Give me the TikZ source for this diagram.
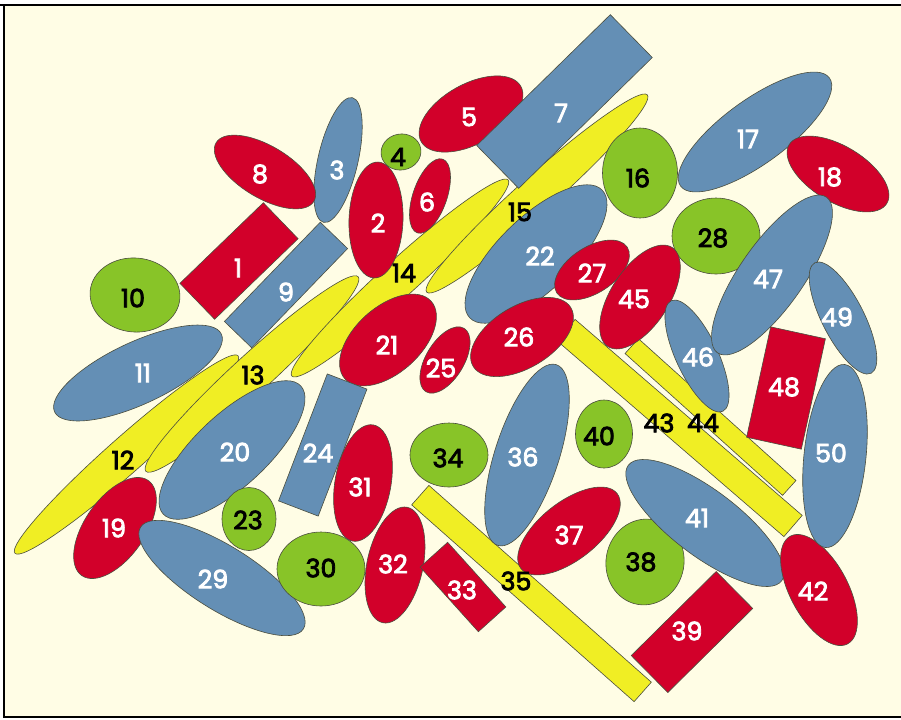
\documentclass[tikz,border=0pt]{standalone}
\usepackage{fontspec}
\newfontfamily\labfont{Poppins}
\definecolor{cRed}{RGB}{210,0,42}
\definecolor{cBlue}{RGB}{100,143,181}
\definecolor{cGreen}{RGB}{136,196,40}
\definecolor{cYel}{RGB}{240,238,36}
\definecolor{cBg}{RGB}{255,253,229}
\definecolor{cEdge}{RGB}{75,78,62}
\tikzset{
  shp/.style={draw=cEdge, line width=0.45pt},
  rsh/.style={shp, fill=cRed},
  bsh/.style={shp, fill=cBlue},
  gsh/.style={shp, fill=cGreen},
  ysh/.style={shp, fill=cYel},
  lab/.style={inner sep=0pt, font=\labfont\fontsize{19}{19}\selectfont},
  lw/.style={lab, text=white},
  lk/.style={lab, text=black}
}
\newcommand\fb[1]{\special{pdf:literal direct 2 Tr 0.6 w}#1\special{pdf:literal direct 0 Tr}}
\newcommand\myell[6]{\draw[#1, shift={(#2,#3)}, rotate=#6] (0,0) ellipse ({#4} and {#5});}
\newcommand\myrect[6]{\draw[#1, shift={(#2,#3)}, rotate=#6] ({-(#4)/2},{-(#5)/2}) rectangle ({(#4)/2},{(#5)/2});}
\begin{document}
\begin{tikzpicture}[x=0.75pt, y=-0.75pt]
\useasboundingbox (0,0) rectangle (901,719);
\fill[white] (0,0) rectangle (901,719);
\fill[cBg] (4,5) rectangle (901,717);
\draw[black, line width=2.2pt] (0,5) -- (901,5);
\draw[black, line width=1.1pt] (4,5) -- (4,717) -- (901,717);
% yellow long shapes
\myell{ysh}{126.5}{454.5}{149}{18}{41.5}
\myell{ysh}{252}{374}{144}{19}{42.5}
\myell{ysh}{400}{278}{146}{18}{42.2}
\myell{ysh}{537}{193.5}{148}{18}{41.8}
\myrect{ysh}{531.5}{593.5}{297}{26}{-41.5}
\myrect{ysh}{679.5}{428}{300}{28}{-40.8}
\myrect{ysh}{710.5}{417}{212}{20}{-42}
% others
\myrect{rsh}{239}{261}{116}{50}{44}
\myell{rsh}{376}{220}{58}{27}{88}
\myell{bsh}{338}{160}{64}{20}{77}
\myell{gsh}{401}{152}{20}{18}{10}
\myell{rsh}{471}{114}{57}{30}{29}
\myell{rsh}{430}{196}{39}{17}{71}
\myrect{bsh}{564.5}{101.5}{187}{60}{44.4}
\myell{rsh}{265}{172}{57}{26}{-31}
\myrect{bsh}{286}{285}{138}{38}{46}
\myell{gsh}{135}{295}{45}{37}{-5}
\myell{bsh}{138}{373}{92}{31}{25}
\myell{gsh}{640}{173}{45}{37.5}{90}
\myell{bsh}{755}{132}{92}{32}{36}
\myell{rsh}{838}{174}{57}{28}{-31}
\myell{rsh}{115}{528}{58}{30}{55}
\myell{bsh}{232}{450}{94}{36}{43}
\myell{rsh}{388}{340}{58}{33}{42}
\myell{bsh}{536}{254}{92}{37}{44}
\myell{gsh}{249}{519}{31.5}{27}{90}
\myrect{bsh}{322.75}{445}{136}{42.5}{69}
\myell{rsh}{445}{360}{37}{19}{59}
\myell{rsh}{522}{337}{57}{31}{31}
\myell{rsh}{592}{270}{42}{23}{33}
\myell{gsh}{716}{236}{44}{38}{0}
\myell{bsh}{222}{578}{96}{32}{-32}
\myell{gsh}{321}{569}{44}{37}{0}
\myell{rsh}{363}{483}{59}{28}{80}
\myell{rsh}{395}{565}{59}{28}{78}
\myrect{rsh}{463}{587}{87}{37}{-48}
\myell{gsh}{449}{455}{39}{32}{0}
\myell{bsh}{527}{455}{95}{32}{72}
\myell{rsh}{569}{531}{61}{29}{38}
\myell{gsh}{645}{562}{43}{39}{80}
\myrect{rsh}{692}{632}{119.5}{52}{44.7}
\myell{gsh}{604}{434}{34}{28.5}{90}
\myell{bsh}{705}{523}{96}{33}{-37}
\myell{rsh}{819}{590}{61}{29}{118}
\myell{rsh}{640}{297}{59}{29}{57}
\myell{bsh}{697}{356}{61}{21}{115}
\myell{bsh}{772}{275}{95}{32}{55}
\myrect{rsh}{786}{388}{113}{56}{77.7}
\myell{bsh}{843}{318}{62}{21}{117}
\myell{bsh}{835}{456}{92}{31}{84}
% labels
\node[lw] (l1) at (238,268) {\fb{1}};
\node[lw] (l2) at (378,223) {\fb{2}};
\node[lw] (l3) at (337,170) {\fb{3}};
\node[lk] (l4) at (398,157) {\fb{4}};
\node[lw] (l5) at (469,117) {\fb{5}};
\node[lw] (l6) at (427,202) {\fb{6}};
\node[lw] (l7) at (561,113) {\fb{7}};
\node[lw] (l8) at (260,174) {\fb{8}};
\node[lw] (l9) at (286,292) {\fb{9}};
\node[lk] (l10) at (133,298) {\fb{10}};
\node[lw] (l11) at (143,373) {\fb{11}};
\node[lk] (l12) at (123,460) {\fb{12}};
\node[lk] (l13) at (253,375) {\fb{13}};
\node[lk] (l14) at (404,273) {\fb{14}};
\node[lk] (l15) at (520,212) {\fb{15}};
\node[lk] (l16) at (638,178) {\fb{16}};
\node[lw] (l17) at (748,139) {\fb{17}};
\node[lw] (l18) at (830,177) {\fb{18}};
\node[lw] (l19) at (114,528) {\fb{19}};
\node[lw] (l20) at (235,452) {\fb{20}};
\node[lw] (l21) at (387,345) {\fb{21}};
\node[lw] (l22) at (540,256) {\fb{22}};
\node[lk] (l23) at (248,520) {\fb{23}};
\node[lw] (l24) at (318,453) {\fb{24}};
\node[lw] (l25) at (441,368) {\fb{25}};
\node[lw] (l26) at (519,337) {\fb{26}};
\node[lw] (l27) at (592,273) {\fb{27}};
\node[lk] (l28) at (713,238) {\fb{28}};
\node[lw] (l29) at (213,579) {\fb{29}};
\node[lk] (l30) at (321,568) {\fb{30}};
\node[lw] (l31) at (360,487) {\fb{31}};
\node[lw] (l32) at (393,564) {\fb{32}};
\node[lw] (l33) at (462,590) {\fb{33}};
\node[lk] (l34) at (448,458) {\fb{34}};
\node[lk] (l35) at (516,581) {\fb{35}};
\node[lw] (l36) at (523,457) {\fb{36}};
\node[lw] (l37) at (569,535) {\fb{37}};
\node[lk] (l38) at (641,562) {\fb{38}};
\node[lw] (l39) at (687,631) {\fb{39}};
\node[lk] (l40) at (599,436) {\fb{40}};
\node[lw] (l41) at (697,518) {\fb{41}};
\node[lw] (l42) at (813,591) {\fb{42}};
\node[lk] (l43) at (659,423) {\fb{43}};
\node[lk] (l44) at (703,423) {\fb{44}};
\node[lw] (l45) at (634,299) {\fb{45}};
\node[lw] (l46) at (698,357) {\fb{46}};
\node[lw] (l47) at (768,279) {\fb{47}};
\node[lw] (l48) at (784,387) {\fb{48}};
\node[lw] (l49) at (837,317) {\fb{49}};
\node[lw] (l50) at (831,453) {\fb{50}};
\end{tikzpicture}
\end{document}
